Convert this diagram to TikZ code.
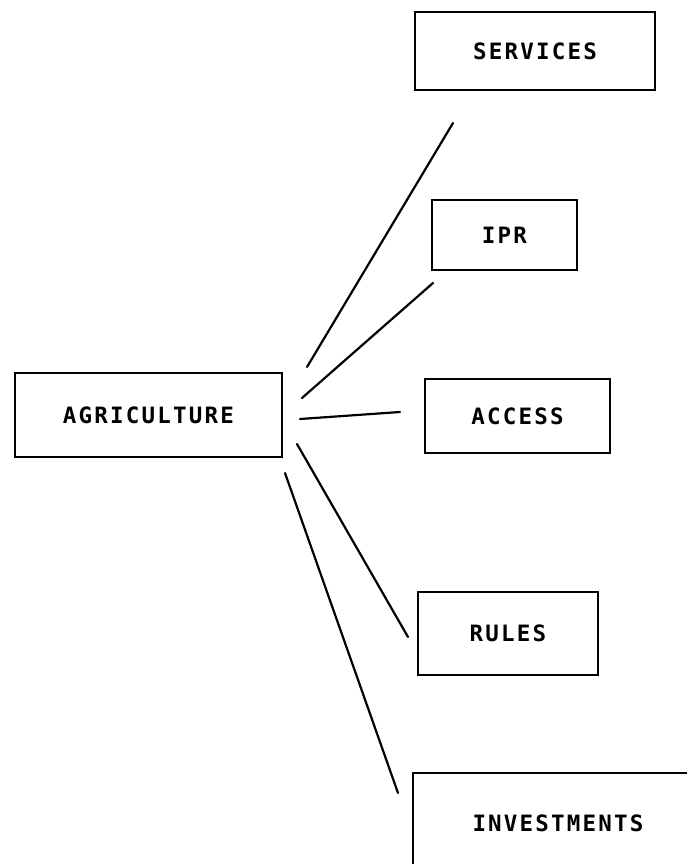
\documentclass[tikz,border=0pt]{standalone}
\usepackage{fontspec}
\newfontfamily\twfont{DejaVu Sans Mono}
\def\ls#1{\lsA#1\relax}
\def\lsA#1{\ifx\relax#1\unkern\else#1\kern2.2pt\expandafter\lsA\fi}
\begin{document}
\begin{tikzpicture}[x=1pt,y=-1pt,
  box/.style={draw, line width=2.2pt, rectangle, inner sep=0pt,
    font=\twfont\bfseries\fontsize{22.5}{24}\selectfont},
  link/.style={line width=2.2pt, line cap=round}]
\useasboundingbox (0,0) rectangle (687,864);
\clip (0,0) rectangle (687,864);
\node[box, minimum width=240pt, minimum height=78pt] (services) at (535,51) {\ls{SERVICES}};
\node[box, minimum width=145pt, minimum height=70pt] (ipr) at (504.5,235) {\ls{IPR}};
\node[box, minimum width=185pt, minimum height=74pt] (access) at (517.5,416) {\ls{ACCESS}};
\node[box, minimum width=267pt, minimum height=84pt] (agri) at (148.5,415) {\ls{AGRICULTURE}};
\node[box, minimum width=180pt, minimum height=83pt] (rules) at (508,633.5) {\ls{RULES}};
\node[box, minimum width=290pt, minimum height=100pt] (inv) at (558,823) {\ls{INVESTMENTS}};
\coordinate (a1) at (307,367); \coordinate (b1) at (453,123);
\coordinate (a2) at (302,398); \coordinate (b2) at (433,283);
\coordinate (a3) at (300,419); \coordinate (b3) at (400,412);
\coordinate (a4) at (297,444); \coordinate (b4) at (408,637);
\coordinate (a5) at (285,473); \coordinate (b5) at (398,793);
\draw[link] (a1) -- (b1);
\draw[link] (a2) -- (b2);
\draw[link] (a3) -- (b3);
\draw[link] (a4) -- (b4);
\draw[link] (a5) -- (b5);
\end{tikzpicture}
\end{document}
